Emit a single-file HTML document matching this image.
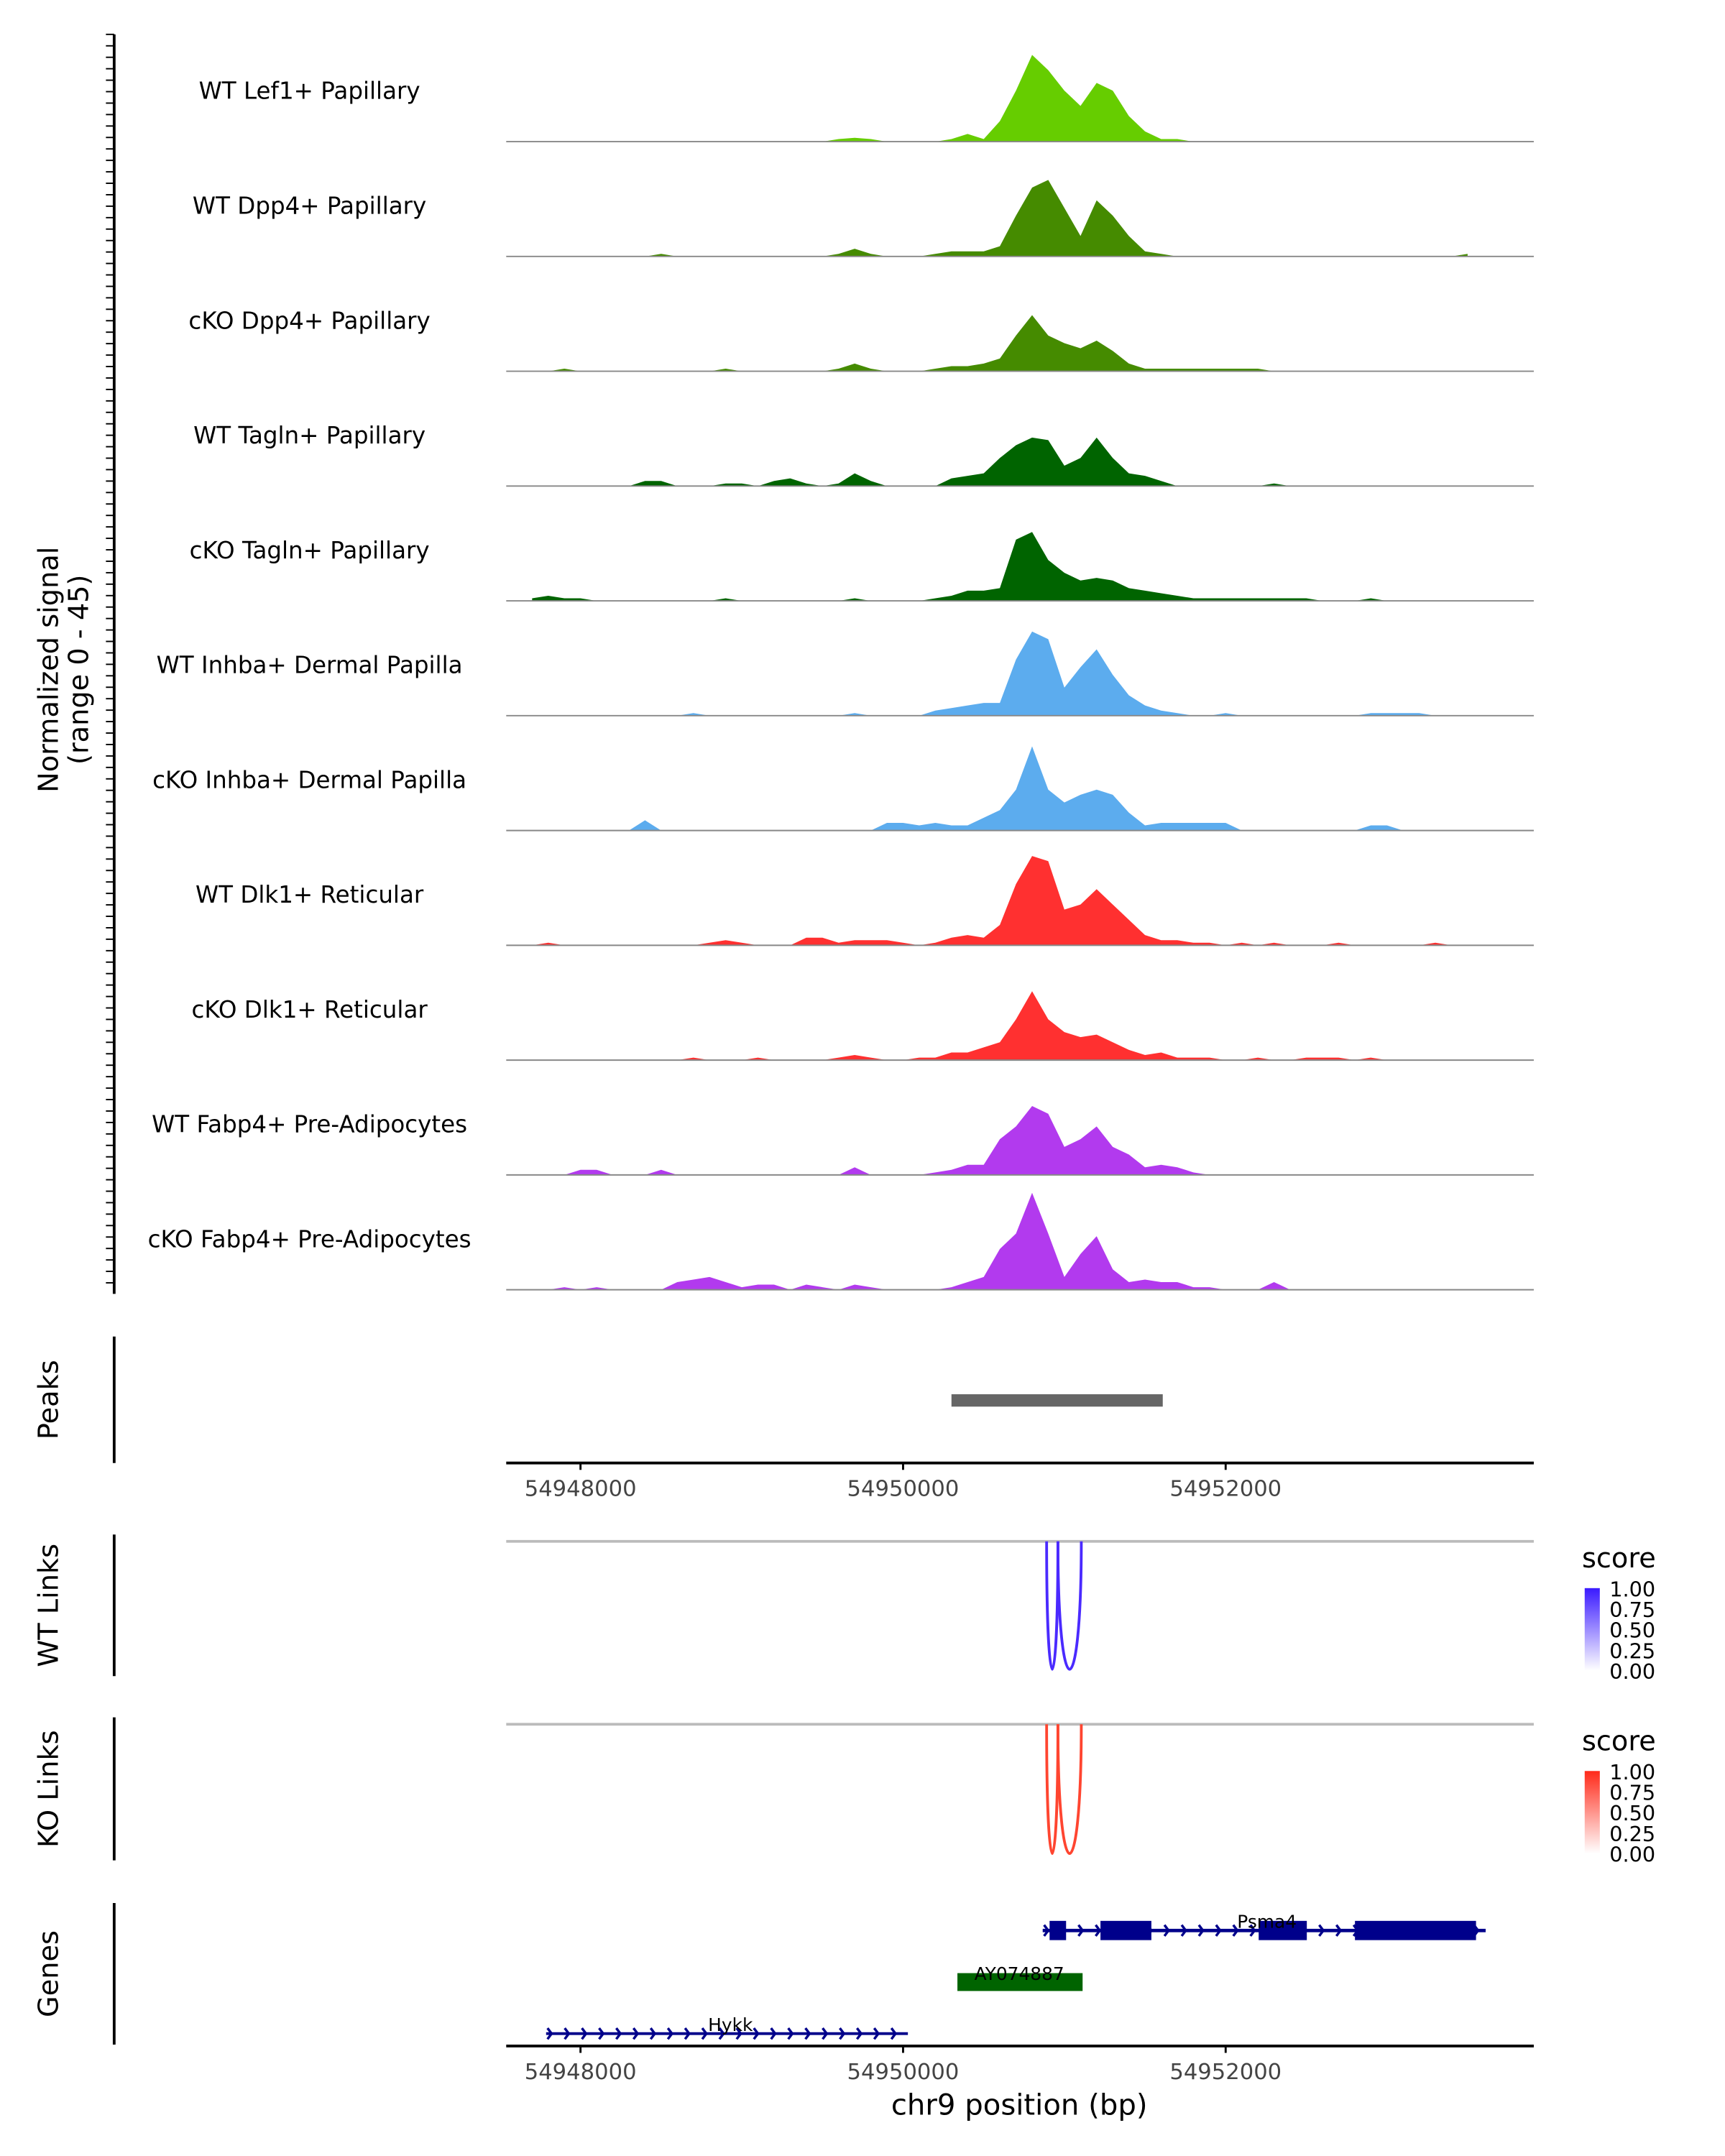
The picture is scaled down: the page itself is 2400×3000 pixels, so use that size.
<!DOCTYPE html>
<html><head><meta charset="utf-8"><style>
html,body{margin:0;padding:0;background:#fff}
svg{display:block}
text{font-family:"DejaVu Sans","Liberation Sans",sans-serif}
</style></head><body>
<svg id="chart" width="2400" height="3000" viewBox="0 0 1254 1568" preserveAspectRatio="none" xmlns="http://www.w3.org/2000/svg"></svg>
<script>
const trackNames=["WT Lef1+ Papillary","WT Dpp4+ Papillary","cKO Dpp4+ Papillary","WT Tagln+ Papillary","cKO Tagln+ Papillary","WT Inhba+ Dermal Papilla","cKO Inhba+ Dermal Papilla","WT Dlk1+ Reticular","cKO Dlk1+ Reticular","WT Fabp4+ Pre-Adipocytes","cKO Fabp4+ Pre-Adipocytes"];
const trackColors=["#66cd00","#458b00","#458b00","#006400","#006400","#5cacee","#5cacee","#ff3030","#ff3030","#b23aee","#b23aee"];
const binStart=54947700, binSize=100;
const sigLef1=[0,0,0,0,0,0,0,0,0,0,0,0,0,0,0,0,0,0,0,1,1.5,1,0,0,0,0,1,3,1,8,20,34,28,20,14,23,20,10,4,1,1,0,0,0,0,0,0,0,0,0,0,0,0,0,0,0,0,0,0];
const sigDpp4WT=[0,0,0,0,0,0,0,0,1,0,0,0,0,0,0,0,0,0,0,1,3,1,0,0,0,1,2,2,2,4,16,27,30,19,8,22,16,8,2,1,0,0,0,0,0,0,0,0,0,0,0,0,0,0,0,0,0,0,1];
const sigDpp4KO=[0,0,1,0,0,0,0,0,0,0,0,0,1,0,0,0,0,0,0,1,3,1,0,0,0,1,2,2,3,5,14,22,14,11,9,12,8,3,1,1,1,1,1,1,1,1,0,0,0,0,0,0,0,0,0,0,0,0,0];
const sigTaglnWT=[0,0,0,0,0,0,0,2,2,0,0,0,1,1,0,2,3,1,0,1,5,2,0,0,0,0,3,4,5,11,16,19,18,8,11,19,11,5,4,2,0,0,0,0,0,0,1,0,0,0,0,0,0,0,0,0,0,0,0];
const sigTaglnKO=[1,2,1,1,0,0,0,0,0,0,0,0,1,0,0,0,0,0,0,0,1,0,0,0,0,1,2,4,4,5,24,27,16,11,8,9,8,5,4,3,2,1,1,1,1,1,1,1,1,0,0,0,1,0,0,0,0,0,0];
const sigInhbaWT=[0,0,0,0,0,0,0,0,0,0,1,0,0,0,0,0,0,0,0,0,1,0,0,0,0,2,3,4,5,5,22,33,30,11,19,26,16,8,4,2,1,0,0,1,0,0,0,0,0,0,0,0,1,1,1,1,0,0,0];
const sigInhbaKO=[0,0,0,0,0,0,0,4,0,0,0,0,0,0,0,0,0,0,0,0,0,0,3,3,2,3,2,2,5,8,16,33,16,11,14,16,14,7,2,3,3,3,3,3,0,0,0,0,0,0,0,0,2,2,0,0,0,0,0];
const sigDlk1WT=[0,1,0,0,0,0,0,0,0,0,0,1,2,1,0,0,0,3,3,1,2,2,2,1,0,1,3,4,3,8,24,35,33,14,16,22,16,10,4,2,2,1,1,0,1,0,1,0,0,0,1,0,0,0,0,0,1,0,0];
const sigDlk1KO=[0,0,0,0,0,0,0,0,0,0,1,0,0,0,1,0,0,0,0,1,2,1,0,0,1,1,3,3,5,7,16,27,16,11,9,10,7,4,2,3,1,1,1,0,0,1,0,0,1,1,1,0,1,0,0,0,0,0,0];
const sigFabp4WT=[0,0,0,2,2,0,0,0,2,0,0,0,0,0,0,0,0,0,0,0,3,0,0,0,0,1,2,4,4,14,19,27,24,11,14,19,11,8,3,4,3,1,0,0,0,0,0,0,0,0,0,0,0,0,0,0,0,0,0];
const sigFabp4KO=[0,0,1,0,1,0,0,0,0,3,4,5,3,1,2,2,0,2,1,0,2,1,0,0,0,0,1,3,5,16,22,38,22,5,14,21,8,3,4,3,3,1,1,0,0,0,3,0,0,0,0,0,0,0,0,0,0,0,0];
const signals=[sigLef1,sigDpp4WT,sigDpp4KO,sigTaglnWT,sigTaglnKO,sigInhbaWT,sigInhbaKO,sigDlk1WT,sigDlk1KO,sigFabp4WT,sigFabp4KO];
const xTicks=[54948000,54950000,54952000];
const peakStarts=[54950300], peakEnds=[54951610];
const wtLinkStarts=[54950890,54950960], wtLinkEnds=[54950960,54951105], wtLinkScores=[1,1];
const koLinkStarts=[54950890,54950960], koLinkEnds=[54950960,54951105], koLinkScores=[1,1];
const legendTicks=["1.00","0.75","0.50","0.25","0.00"];

const NS="http://www.w3.org/2000/svg";
const svg=document.getElementById('chart');
function el(tag,attrs,parent){const e=document.createElementNS(NS,tag);for(const k in attrs)e.setAttribute(k,attrs[k]);(parent||svg).appendChild(e);return e;}
const X0=368,X1=1115;
function xs(p){return 422+(p-54948000)*234.5/2000;}
const yMax=45, trackH=83.5, firstBase=103;
function ys(v,base){return base-v*trackH/yMax;}

let ax=el('line',{x1:83,y1:25,x2:83,y2:941,stroke:'#000','stroke-width':2});

for(let y=25;y<=941;y+=8.33){el('line',{x1:77,y1:y,x2:83,y2:y,stroke:'#000','stroke-width':1});}
let yt=el('text',{transform:'translate(42,487) rotate(-90)','text-anchor':'middle','font-size':20});

yt.textContent='Normalized signal';
let yt2=el('text',{transform:'translate(64,487) rotate(-90)','text-anchor':'middle','font-size':20});

yt2.textContent='(range 0 - 45)';

signals.forEach((s,t)=>{
  const base=firstBase+t*trackH;
  let d='M'+xs(binStart)+','+base;
  s.forEach((v,i)=>{d+=' L'+xs(binStart+i*binSize).toFixed(2)+','+ys(v,base).toFixed(2);});
  d+=' L'+xs(binStart+(s.length-1)*binSize)+','+base+' Z';
  const p=el('path',{d:d,fill:trackColors[t]});
  
  
  el('line',{x1:X0,y1:base,x2:X1,y2:base,stroke:'#888','stroke-width':1});
  const lab=el('text',{x:225,y:base-31,'text-anchor':'middle','font-size':17});
  
  
  lab.textContent=trackNames[t];
});

function sideAxis(y1,y2,label,name){
  const l=el('line',{x1:83,y1:y1,x2:83,y2:y2,stroke:'#000','stroke-width':2});
  
  const t=el('text',{transform:'translate(42,'+((y1+y2)/2)+') rotate(-90)','text-anchor':'middle','font-size':20});
  
  t.textContent=label;
}
sideAxis(972,1064,'Peaks','peaks');
peakStarts.forEach((s,i)=>{
  const r=el('rect',{x:xs(s),y:1014,width:xs(peakEnds[i])-xs(s),height:9,fill:'#666'});
  
});
function xAxis(y,tickLabY,name){
  const l=el('line',{x1:X0,y1:y,x2:X1,y2:y,stroke:'#000','stroke-width':2});
  
  xTicks.forEach(v=>{
    el('line',{x1:xs(v),y1:y,x2:xs(v),y2:y+5,stroke:'#000','stroke-width':1.5});
    const t=el('text',{x:xs(v),y:tickLabY,'text-anchor':'middle','font-size':16,fill:'#444'});
    
    t.textContent=v;
  });
}
xAxis(1064,1088,'peaks-x-axis');

function links(top,bottom,label,name,starts,ends,scores,color,grad){
  sideAxis(top-5,bottom,label,name);
  el('line',{x1:X0,y1:top,x2:X1,y2:top,stroke:'#bbb','stroke-width':2});
  const depth=bottom-top-5;
  starts.forEach((s,i)=>{
    const a=xs(s),b=xs(ends[i]),dd=depth*scores[i]*4/3;
    const p=el('path',{d:`M${a},${top} C${a},${top+dd} ${b},${top+dd} ${b},${top}`,fill:'none',stroke:color,'stroke-width':2});
    
  });
  const lt=el('text',{x:1150,y:top+19,'font-size':20});
  
  lt.textContent='score';
  const r=el('rect',{x:1152,y:top+34,width:11,height:60,fill:'url(#'+grad+')'});
  
  legendTicks.forEach((t,i)=>{
    const tx=el('text',{x:1170,y:top+40+i*15,'font-size':15});
    
    tx.textContent=t;
  });
}
const defs=el('defs',{});
function gradDef(id,c){const g=el('linearGradient',{id:id,x1:0,y1:0,x2:0,y2:1},defs);el('stop',{offset:0,'stop-color':c},g);el('stop',{offset:1,'stop-color':'#fff'},g);}
gradDef('gb','#3a1aff');gradDef('gr','#ff2a1a');
links(1121,1219,'WT Links','wt-links',wtLinkStarts,wtLinkEnds,wtLinkScores,'#4a2aff','gb');
links(1254,1353,'KO Links','ko-links',koLinkStarts,koLinkEnds,koLinkScores,'#ff4530','gr');

sideAxis(1384,1487,'Genes','genes');
function chevrons(x1,x2,y,color,step){
  for(let x=x1+4;x<=x2;x+=step){el('path',{d:`M${x-3},${y-4} L${x},${y} L${x-3},${y+4}`,fill:'none',stroke:color,'stroke-width':1.8});}
}
const psma=el('g',{});
el('line',{x1:758,y1:1404,x2:1080,y2:1404,stroke:'#00008b','stroke-width':2.5},psma);
chevrons(758,1082,1404,'#00008b',12.5);
[[763,775],[800,837],[915,950],[985,1073]].forEach(e=>el('rect',{x:e[0],y:1397,width:e[1]-e[0],height:14,fill:'#00008b'},psma));
let pt=el('text',{x:921,y:1402,'text-anchor':'middle','font-size':13});pt.textContent='Psma4';
const ay=el('rect',{x:696,y:1435,width:91,height:13,fill:'#006400'});
let at=el('text',{x:741,y:1440,'text-anchor':'middle','font-size':13});at.textContent='AY074887';
const hy=el('g',{});
el('line',{x1:397,y1:1479,x2:660,y2:1479,stroke:'#00008b','stroke-width':2},hy);
chevrons(397,662,1479,'#00008b',12.5);
let ht=el('text',{x:531,y:1477,'text-anchor':'middle','font-size':13});ht.textContent='Hykk';
xAxis(1488,1512,'genes-x-axis');
let xt=el('text',{x:741,y:1538,'text-anchor':'middle','font-size':21});

xt.textContent='chr9 position (bp)';
</script>
</body></html>
